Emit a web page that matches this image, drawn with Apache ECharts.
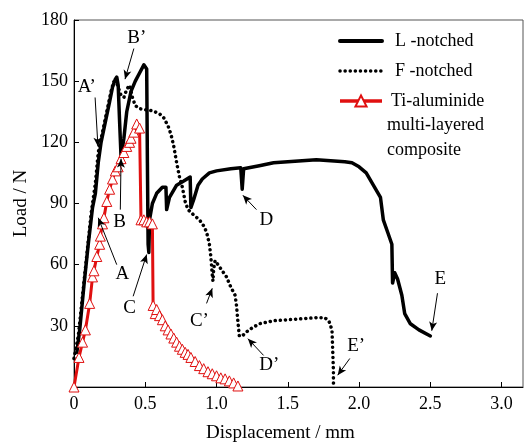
<!DOCTYPE html>
<html><head><meta charset="utf-8">
<script src="https://cdn.jsdelivr.net/npm/echarts@6/dist/echarts.min.js"></script>
<style>html,body{margin:0;padding:0;background:#fff}#c{width:524px;height:448px}</style>
</head><body><div id="c"></div>
<script>
const xTicks = [0, 0.5, 1.0, 1.5, 2.0, 2.5, 3.0];
const yTicks = [0, 30, 60, 90, 120, 150, 180];
const seriesNames = ['L -notched', 'F -notched', 'Ti-aluminide'];

const lX = [0.02,0.04,0.07,0.10,0.13,0.15,0.17,0.19,0.22,0.25,0.27,0.29,0.30,0.31,0.32,0.33,0.35,0.37,0.40,0.43,0.46,0.49,0.51,0.515,0.52,0.525,0.53,0.55,0.58,0.62,0.645,0.65,0.67,0.72,0.77,0.815,0.82,0.84,0.87,0.9,0.95,1.0,1.1,1.17,1.18,1.19,1.3,1.4,1.5,1.6,1.7,1.8,1.9,1.95,2.0,2.05,2.1,2.15,2.17,2.2,2.23,2.235,2.25,2.27,2.3,2.32,2.36,2.42,2.5];
const lY = [17,28,50,70,88,95,110,120,130,140,147,151,152,148,130,113,122,135,145,150,154,158,156,110,70,66,82,90,95,98,98,87,93,99,101,103,88,92,99,102,105,106,107,107.5,97,107,108.5,110,110.5,111,111.5,111,110.5,110,108,105,99,93,82,76,70,51,56,53,45,36,31,28,25];

const fX = [0.0,0.03,0.06,0.09,0.12,0.15,0.17,0.2,0.23,0.26,0.28,0.30,0.33,0.35,0.37,0.39,0.41,0.43,0.46,0.5,0.55,0.6,0.63,0.66,0.68,0.70,0.72,0.74,0.76,0.78,0.80,0.83,0.88,0.91,0.93,0.95,0.96,0.97,0.975,0.98,0.99,1.0,1.03,1.07,1.1,1.13,1.14,1.15,1.16,1.18,1.21,1.25,1.3,1.4,1.5,1.6,1.7,1.76,1.79,1.81,1.815,1.82,1.82,1.825];
const fY = [14,25,45,65,85,100,115,125,135,145,150,149,143,142,146,148,142,138,136.5,136,135.5,134,132,128,124,118,110,103,98,91,87,85,82,79,76,70,64,55,52,58,62,62,58,54,49,45,40,32,25,25,27,29,31,32.5,33,33.5,34,34,32,28,18,8,2,0.5];

const tX = [0,0.035,0.06,0.08,0.11,0.13,0.14,0.16,0.18,0.185,0.2,0.21,0.23,0.25,0.27,0.29,0.31,0.33,0.35,0.37,0.39,0.40,0.42,0.44,0.46,0.47,0.49,0.51,0.53,0.55,0.555,0.57,0.58,0.60,0.62,0.64,0.66,0.68,0.70,0.72,0.74,0.76,0.78,0.80,0.82,0.85,0.88,0.91,0.94,0.97,1.0,1.03,1.06,1.09,1.12,1.15];
const tY = [0,14.5,22,28,41,54,57,64,70,74,80,83,91,97,102,106,108,112,115,118,120,122,125,129,127,82,82,81,81,80,40,36,38,35,33,30,28,26,24,22,20,18.5,17,16,14.5,12.5,10.5,9,7.5,6.5,5.5,4.5,4,3,2,0.5];

const annLabels = ['A’','B’','A','B','C','C’','D','D’','E','E’'];
const annLabelX = [0.09,0.44,0.34,0.32,0.39,0.88,1.35,1.37,2.57,1.98];
const annLabelY = [147,171,55.6,81,38.7,32.4,82,10.6,53,20];
const annFromX = [0.148,0.42,0.30,0.325,0.415,0.93,1.28,1.33,2.55,1.935];
const annFromY = [142,166,60,87,44.5,41,87,15.5,46,14];
const annToX = [0.168,0.358,0.17,0.33,0.51,0.97,1.185,1.22,2.51,1.85];
const annToY = [118,151,83,112,65,48.4,94,23.7,27.6,5.8];

const zip = (a,b) => a.map((v,i)=>[v,b[i]]);
const FONT = '"Liberation Serif","Times New Roman",serif';

const chart = echarts.init(document.getElementById('c'), null, {renderer:'canvas'});
chart.setOption({
  animation:false,
  backgroundColor:'#fff',
  grid:{left:74, top:20, right:1, bottom:56, show:true, borderColor:'#555', borderWidth:1},
  legend:{
    orient:'vertical', left:333, top:27, itemWidth:42, itemHeight:14, itemGap:12,
    data:[
      {name:seriesNames[0], itemStyle:{opacity:0}, lineStyle:{width:4, color:'#000'}},
      {name:seriesNames[1], itemStyle:{opacity:0}, lineStyle:{width:3.5, color:'#000', type:[0.1,5], cap:'round'}},
      {name:seriesNames[2], lineStyle:{width:3.5, color:'#e01010'}, textStyle:{padding:[0,0,0,4]}}
    ],
    textStyle:{fontFamily:FONT, fontSize:18, color:'#000', padding:[0,0,0,8]}
  },
  graphic:[{type:'text', left:387, top:113, style:{text:'multi-layered\ncomposite', font:'18px '+FONT, fill:'#000', lineHeight:25}}],
  xAxis:{
    type:'value', min:0, max:3.15, interval:0.5,
    name:'Displacement / mm', nameLocation:'middle', nameGap:37,
    nameTextStyle:{fontFamily:FONT, fontSize:19, color:'#000', padding:[0,36,0,0]},
    axisLine:{lineStyle:{color:'#000', width:1}},
    axisTick:{inside:true, length:5, lineStyle:{color:'#000'}},
    axisLabel:{fontFamily:FONT, fontSize:18, color:'#000', margin:8, showMaxLabel:false,
      formatter:v => v===0 ? '0' : v.toFixed(1)},
    splitLine:{show:false}
  },
  yAxis:{
    type:'value', min:0, max:180, interval:30,
    name:'Load / N', nameLocation:'middle', nameGap:42,
    nameTextStyle:{fontFamily:FONT, fontSize:19, color:'#000'},
    axisLine:{lineStyle:{color:'#000', width:1}},
    axisTick:{inside:true, length:5, lineStyle:{color:'#000'}},
    axisLabel:{fontFamily:FONT, fontSize:18, color:'#000', margin:6,
      formatter:v => v===0 ? '' : String(v)},
    splitLine:{show:false}
  },
  series:[
    {name:seriesNames[0], type:'line', data:zip(lX,lY), showSymbol:false, symbol:'none',
     lineStyle:{color:'#000', width:3.5, cap:'round', join:'round'}, itemStyle:{color:'#000'},
     markLine:{silent:true, symbol:['none','arrow'], symbolSize:[6,9], precision:3,
       lineStyle:{color:'#000', width:1, type:'solid'}, label:{show:false},
       data: annLabels.map((n,i)=>[{coord:[annFromX[i],annFromY[i]]},{coord:[annToX[i],annToY[i]]}])},
     markPoint:{silent:true, symbol:'circle', symbolSize:1, itemStyle:{color:'rgba(0,0,0,0)'},
       label:{show:true, position:'inside', fontFamily:FONT, fontSize:19, color:'#000', formatter:p=>p.name},
       data: annLabels.map((n,i)=>({name:n, coord:[annLabelX[i],annLabelY[i]]}))}
    },
    {name:seriesNames[1], type:'line', data:zip(fX,fY), showSymbol:false, symbol:'none',
     lineStyle:{color:'#000', width:3.5, type:[0.1,5], cap:'round'}, itemStyle:{color:'#000'}},
    {name:seriesNames[2], type:'line', data:zip(tX,tY), symbol:'triangle', symbolSize:10, showSymbol:true,
     lineStyle:{color:'#e01010', width:3}, itemStyle:{color:'#fff', borderColor:'#e01010', borderWidth:1}}
  ]
});
</script></body></html>
